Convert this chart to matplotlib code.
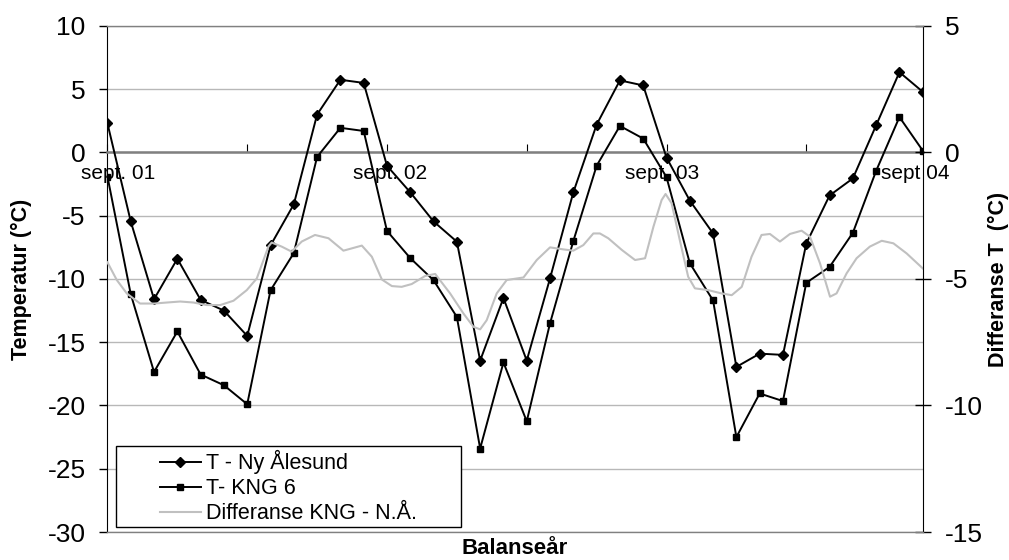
import numpy as np
import matplotlib
matplotlib.use('Agg')
import matplotlib.pyplot as plt
from matplotlib.patches import Rectangle

plt.rcParams['font.family'] = 'Liberation Sans'
plt.rcParams['axes.unicode_minus'] = False

# monthly mean temperatures, sept 2001 - aug 2004
months = np.arange(36)
t_nyalesund = [2.3, -5.45, -11.6, -8.4, -11.65, -12.5, -14.5, -7.35, -4.1, 3.0,
               5.75, 5.5, -1.05, -3.15, -5.45, -7.05, -16.45, -11.5, -16.45, -9.95,
               -3.15, 2.2, 5.7, 5.3, -0.4, -3.8, -6.4, -16.95, -15.9, -16.0,
               -7.2, -3.4, -2.05, 2.15, 6.35, 4.8]
t_kng6 = [-1.9, -11.2, -17.35, -14.15, -17.55, -18.4, -19.9, -10.9, -7.95, -0.35,
          1.95, 1.7, -6.2, -8.35, -10.1, -13.0, -23.4, -16.6, -21.25, -13.5,
          -7.0, -1.05, 2.1, 1.1, -1.95, -8.75, -11.7, -22.5, -19.05, -19.65,
          -10.3, -9.05, -6.35, -1.45, 2.8, 0.15]

# smoothed difference KNG 6 - Ny Ålesund (right axis)
diff_x = [0.0, 0.4, 0.83, 1.4, 2.0, 2.55, 3.12, 3.69, 4.26, 4.84, 5.41, 5.98,
          6.41, 6.91, 7.05, 7.48, 7.91, 8.34, 8.91, 9.49, 10.13, 10.49, 10.92,
          11.35, 11.78, 12.21, 12.63, 13.06, 13.64, 14.07, 14.71, 15.28, 15.71,
          16.0, 16.28, 16.71, 17.14, 17.86, 18.43, 19.0, 19.57, 20.0, 20.43,
          20.86, 21.14, 21.5, 22.08, 22.65, 23.08, 23.44, 23.79, 23.96, 24.22,
          24.57, 24.93, 25.22, 25.79, 26.36, 26.8, 27.23, 27.65, 28.08, 28.44,
          28.87, 29.3, 29.8, 30.16, 30.59, 31.02, 31.3, 31.73, 32.16, 32.73,
          33.24, 33.74, 34.31, 35.0]
diff_t = [-4.34, -5.04, -5.57, -5.97, -5.97, -5.93, -5.89, -5.93, -6.03, -6.03, -5.86, -5.44,
          -4.98, -3.72, -3.56, -3.72, -3.92, -3.52, -3.26, -3.39, -3.88, -3.79, -3.68,
          -4.12, -5.02, -5.28, -5.31, -5.2, -4.88, -4.8, -5.57, -6.36, -6.89,
          -6.99, -6.63, -5.57, -5.04, -4.94, -4.25, -3.75, -3.83, -3.88, -3.66,
          -3.2, -3.2, -3.39, -3.85, -4.25, -4.18, -2.93, -1.88, -1.64, -2.01,
          -3.46, -4.91, -5.37, -5.44, -5.57, -5.64, -5.31, -4.12, -3.26, -3.22,
          -3.52, -3.22, -3.09, -3.33, -4.38, -5.7, -5.57, -4.78, -4.18, -3.72,
          -3.49, -3.59, -3.99, -4.58]

year_labels = ['sept. 01', 'sept. 02', 'sept. 03', 'sept 04']
year_label_x = [0.47, 12.13, 23.8, 34.7]

fig = plt.figure(figsize=(10.09, 5.6), dpi=100)
ax = fig.add_axes([0.1065, 0.05, 0.808, 0.9036])
ax2 = ax.twinx()

ax.plot(months, t_nyalesund, color='black', lw=1.4, marker='D', ms=5.5,
        label='T - Ny Ålesund', zorder=3)
ax.plot(months, t_kng6, color='black', lw=1.4, marker='s', ms=5,
        label='T- KNG 6', zorder=3)
ax2.plot(diff_x, diff_t, color='#c0c0c0', lw=1.5, label='Differanse KNG - N.Å.')

ax.set_xlim(0, 35)
ax.set_ylim(-30, 10)
ax2.set_ylim(-15, 5)
ax.set_yticks(np.arange(-30, 11, 5))
ax2.set_yticks(np.arange(-15, 6, 5))
ax.yaxis.grid(True, color='#b8b8b8', lw=1)
ax.set_axisbelow(True)

# category axis crosses at 0
ax.spines['bottom'].set_position(('data', 0))
ax.spines['bottom'].set_color('#808080')
ax.spines['bottom'].set_linewidth(1.8)
ax.spines['top'].set_visible(False)
ax.spines['right'].set_visible(False)
ax2.spines['left'].set_visible(False)
for s in ('top', 'bottom'):
    ax2.spines[s].set_color('#808080')
    ax2.spines[s].set_linewidth(1)

ax.set_xticks(range(0, 31, 6))
ax.set_xticklabels([])
ax.tick_params(axis='x', direction='in', length=5.8, width=0.8, color='black')
ax.tick_params(axis='y', direction='out', length=5.8, width=1, labelsize=19, pad=10)
ax2.tick_params(axis='y', direction='inout', length=12, width=1, labelsize=19, pad=10)

for lx, lab in zip(year_label_x, year_labels):
    ax.text(lx, -1.66, lab, ha='center', va='center', fontsize=15, zorder=6)

ax.set_xlabel('Balanseår', fontsize=16, fontweight='bold')
ax.xaxis.set_label_coords(0.5, -0.012)
ax.set_ylabel('Temperatur (°C)', fontsize=15.5, fontweight='bold')
ax.yaxis.set_label_coords(-0.0926, 0.5)
ax2.set_ylabel('Differanse T  (°C)', fontsize=15.5, fontweight='bold')
ax2.yaxis.set_label_coords(1.08, 0.5)

# legend box
ax2.add_patch(Rectangle((0.115, 0.0595), 0.3416, 0.1441, transform=fig.transFigure,
                        facecolor='white', edgecolor='black', lw=1, zorder=4))
h1, l1 = ax.get_legend_handles_labels()
h2, l2 = ax2.get_legend_handles_labels()
leg = ax2.legend(h1 + h2, l1 + l2, loc='upper left', bbox_to_anchor=(0.1586, 0.1965),
                 bbox_transform=fig.transFigure, frameon=False, fontsize=15.5,
                 borderpad=0, borderaxespad=0, handlelength=1.9, handletextpad=0.25,
                 labelspacing=0.19, numpoints=1)
leg.set_zorder(5)

fig.savefig('out.png', dpi=100)
